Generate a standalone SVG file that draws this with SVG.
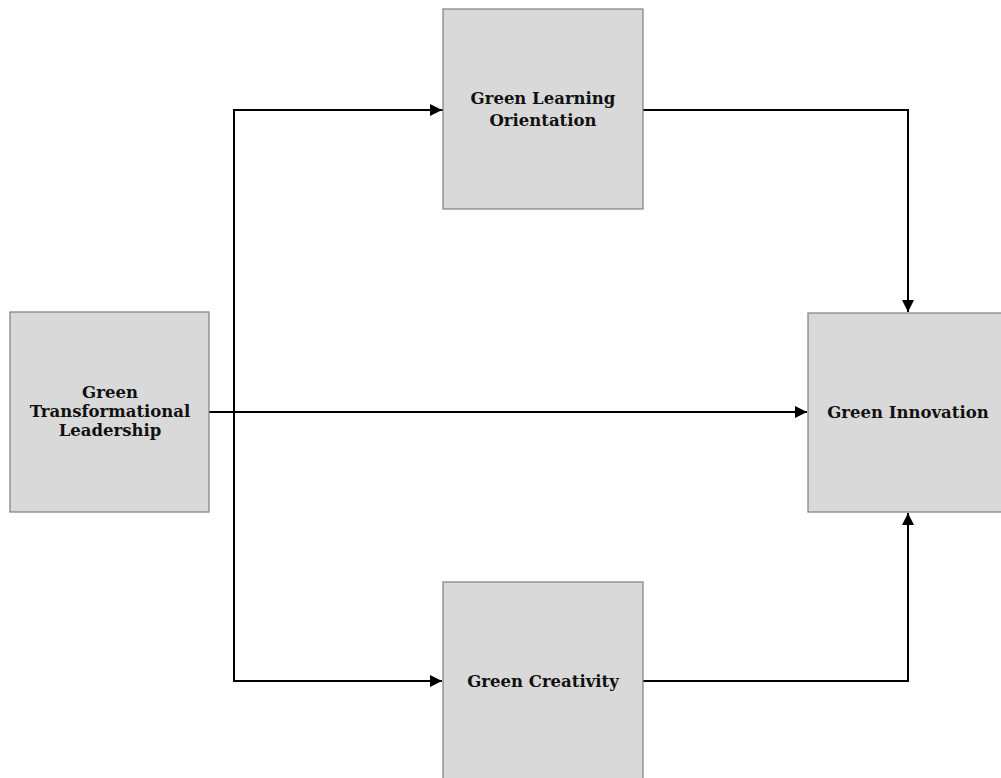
<svg xmlns="http://www.w3.org/2000/svg" width="1001" height="778" viewBox="0 0 1001 778">
<style>
.box{fill:#d9d9d9;stroke:#7f7f7f;stroke-width:1.2}
.lbl{font-family:"DejaVu Serif","Liberation Serif",serif;font-weight:bold;font-size:16.5px;fill:#111;text-anchor:middle}
.con{fill:none;stroke:#000;stroke-width:2}
</style>
<defs>
<marker id="ah" viewBox="0 0 10 10" refX="10" refY="5" markerWidth="13" markerHeight="12" markerUnits="userSpaceOnUse" orient="auto">
<path d="M0,0 L10,5 L0,10 z" fill="#000"/>
</marker>
</defs>
<rect width="1001" height="778" fill="#fff"/>
<g id="connectors">
<path class="con" d="M209,412 H807" marker-end="url(#ah)"/>
<path class="con" d="M443,110 H234 V681 H442" marker-end="url(#ah)"/>
<path class="con" d="M234,110 H442" marker-end="url(#ah)"/>
<path class="con" d="M643,110 H908 V312" marker-end="url(#ah)"/>
<path class="con" d="M643,681 H908 V513" marker-end="url(#ah)"/>
</g>
<g id="gtl">
<rect class="box" x="10" y="312" width="199" height="200"/>
<text class="lbl" x="110" y="398">Green</text>
<text class="lbl" x="110" y="417">Transformational</text>
<text class="lbl" x="110" y="436">Leadership</text>
</g>
<g id="glo">
<rect class="box" x="443" y="9" width="200" height="200"/>
<text class="lbl" x="543" y="104">Green Learning</text>
<text class="lbl" x="543" y="126">Orientation</text>
</g>
<g id="gi">
<rect class="box" x="808" y="313" width="195" height="199"/>
<text class="lbl" x="908" y="418">Green Innovation</text>
</g>
<g id="gc">
<rect class="box" x="443" y="582" width="200" height="200"/>
<text class="lbl" x="543" y="687">Green Creativity</text>
</g>
</svg>
